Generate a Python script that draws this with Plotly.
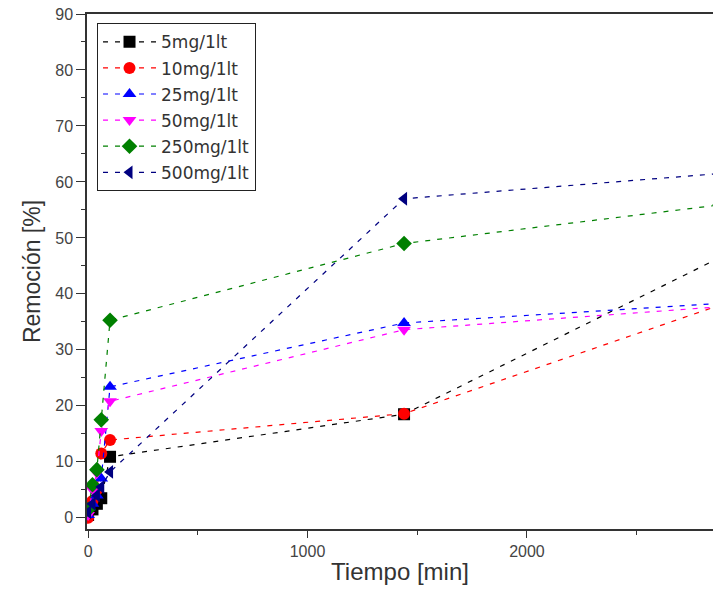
import plotly.graph_objects as go

# Sampling times in minutes
tiempo = [0, 20, 40, 60, 100, 1440, 2880]

# Removal percentage for each dose
rem_5 = [0.5, 1.5, 2.5, 3.5, 10.9, 18.5, 46.5]
rem_10 = [0.0, 3.0, 5.0, 11.5, 13.9, 18.6, 38.0]
rem_25 = [0.5, 2.5, 4.0, 7.0, 23.4, 34.8, 38.3]
rem_50 = [0.5, 5.0, 8.0, 15.5, 20.8, 33.6, 37.7]
rem_250 = [1.5, 5.9, 8.6, 17.5, 35.3, 49.0, 55.9]
rem_500 = [1.0, 2.5, 4.0, 5.5, 8.2, 57.0, 61.5]

labels = ["5mg/1lt", "10mg/1lt", "25mg/1lt", "50mg/1lt", "250mg/1lt", "500mg/1lt"]
series = [rem_5, rem_10, rem_25, rem_50, rem_250, rem_500]
colors = ["#000000", "#ff0000", "#0000ff", "#ff00ff", "#008000", "#000080"]
symbols = ["square", "circle", "triangle-up", "triangle-down", "diamond", "triangle-left"]

fig = go.Figure()
for lab, vals, col, sym in zip(labels, series, colors, symbols):
    fig.add_trace(go.Scatter(
        x=tiempo, y=vals, name=lab, mode="lines+markers", legendgroup=lab,
        line=dict(color=col, width=1.2, dash="5px,7px"),
        marker=dict(symbol=sym, size=12, color=col),
    ))

font_family = "Liberation Sans, Arial, sans-serif"
fig.update_layout(
    width=713, height=596,
    margin=dict(l=87, r=0, t=14, b=67),
    paper_bgcolor="white", plot_bgcolor="white",
    font=dict(family=font_family, color="#333333"),
    showlegend=True,
    legend=dict(
        x=0.016, y=0.982, xanchor="left", yanchor="top",
        bordercolor="#222222", borderwidth=1, bgcolor="white",
        font=dict(family="DejaVu Sans", size=17, color="#333333"),
        tracegroupgap=1, itemwidth=53,
    ),
    xaxis=dict(
        range=[-5, 2848], showgrid=False, zeroline=False,
        showline=True, linecolor="#333333", linewidth=1.5, mirror=True,
        ticks="outside", ticklen=7, tickcolor="#333333",
        tickvals=[0, 1000, 2000], ticktext=["0", "1000", "2000"],
        minor=dict(tickvals=[500, 1500, 2500], ticks="outside", ticklen=4, tickcolor="#333333"),
        tickfont=dict(size=16, color="#444444"),
        title=dict(text="Tiempo [min]", font=dict(size=24, color="#333333"), standoff=4),
    ),
    yaxis=dict(
        range=[-2, 90], showgrid=False, zeroline=False,
        showline=True, linecolor="#333333", linewidth=1.5,
        ticks="outside", ticklen=9, tickcolor="#333333",
        tickvals=[0, 10, 20, 30, 40, 50, 60, 70, 80, 90],
        minor=dict(dtick=5, ticks="outside", ticklen=4, tickcolor="#333333"),
        tickfont=dict(size=16, color="#444444"),
        title=dict(text="Remoción [%]", font=dict(size=23, color="#333333"), standoff=8),
    ),
)

fig.write_html("out.html")
